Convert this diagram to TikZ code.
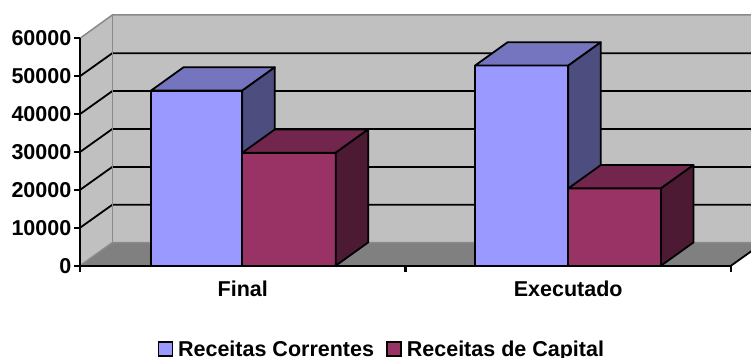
\documentclass[tikz,border=0pt]{standalone}
\usepackage{fontspec}
\setmainfont{Liberation Sans}
\usetikzlibrary{positioning}

\definecolor{wallgray}{HTML}{C0C0C0}
\definecolor{floorgray}{HTML}{808080}
\definecolor{edgegray}{HTML}{8A8A8A}
\definecolor{blueF}{HTML}{9999FF}
\definecolor{blueT}{HTML}{7575BF}
\definecolor{blueS}{HTML}{4D4D80}
\definecolor{redF}{HTML}{993366}
\definecolor{redT}{HTML}{73264D}
\definecolor{redS}{HTML}{4D1A33}

% one 3D bar: left, right, value (thousands), colour prefix
\newcommand{\barbox}[4]{%
  \pgfmathsetmacro\bartop{265.7-#3*3.79}
  \draw[bar,fill=#4F] (#1,\bartop) rectangle (#2,265.7);
  \draw[bar,fill=#4T] (#1,\bartop) -- (#1+32.5,\bartop-23.3) -- (#2+32.5,\bartop-23.3) -- (#2,\bartop) -- cycle;
  \draw[bar,fill=#4S] (#2,\bartop) -- (#2+32.5,\bartop-23.3) -- (#2+32.5,242.4) -- (#2,265.7) -- cycle;
}

\begin{document}
\begin{tikzpicture}[x=1pt,y=-1pt,
    lbl/.style={font=\bfseries\fontsize{21.5}{25}\selectfont,inner sep=0pt},
    edge/.style={draw=edgegray,line width=1.5pt},
    grid/.style={black,line width=1.8pt},
    bar/.style={draw=black,line width=1.8pt,line join=round},
    key/.style={draw=black,line width=1.4pt,minimum size=14pt,inner sep=0pt},
    axis/.style={black,line width=2.2pt}]
  \clip (0,0) rectangle (751,358);

  % walls and floor
  \fill[wallgray] (80,265.7) -- (112.3,242.7) -- (112.3,15) -- (80,38.3) -- cycle;
  \fill[wallgray] (112.3,242.7) rectangle (770,15);
  \fill[floorgray] (80,265.7) -- (112.3,242.7) -- (763.3,242.7) -- (731,265.7) -- cycle;
  \foreach \k in {1,...,5}
    \draw[grid] (80,265.7-\k*37.9) -- (112.3,242.7-\k*37.9) -- (770,242.7-\k*37.9);
  \draw[edge] (80,265.7) -- (112.3,242.7) -- (770,242.7);
  \draw[edge] (80,38.3) -- (112.3,15) -- (770,15);
  \draw[edge] (112.3,15) -- (112.3,242.7);
  \draw[grid] (731,265.7) -- (763.3,242.7);

  % bars
  \barbox{151}{242.3}{46.2}{blue}
  \barbox{242.3}{335.7}{29.8}{red}
  \barbox{475}{568.3}{52.8}{blue}
  \barbox{568.3}{661}{20.4}{red}

  % axes
  \draw[axis] (80,38.3) -- (80,265.7) -- (731,265.7);
  \foreach \v [count=\k from 0] in {0,10000,20000,30000,40000,50000,60000} {
    \draw[axis] (74,265.7-\k*37.9) -- (80,265.7-\k*37.9);
    \node[lbl,anchor=east] (y\k) at (71.5,265.7-\k*37.9) {\v};
  }
  \foreach \x in {80,405.5,731}
    \draw[axis] (\x,265.7) -- (\x,271.5);
  \node[lbl,anchor=base] (final) at (242.75,296.7) {Final};
  \node[lbl,anchor=base] (exec) at (568.25,296.7) {Executado};

  % legend
  \node[key,fill=blueF,anchor=south west] (key1) at (157.5,356.5) {};
  \node[lbl,right=5pt of key1.south east,anchor=base west] (leg1) {Receitas Correntes};
  \node[key,fill=redF,anchor=south west] (key2) at ([xshift=12pt]leg1.base east) {};
  \node[lbl,right=5pt of key2.south east,anchor=base west] (leg2) {Receitas de Capital};
\end{tikzpicture}
\end{document}
